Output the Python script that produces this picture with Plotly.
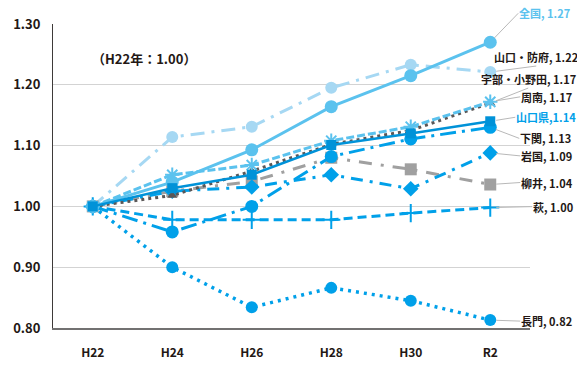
import plotly.graph_objects as go

years = ["H22", "H24", "H26", "H28", "H30", "R2"]

zenkoku = [1.00, 1.040, 1.093, 1.164, 1.215, 1.27]
yamaguchi_hofu = [1.00, 1.114, 1.131, 1.195, 1.233, 1.221]
ube_onoda = [1.00, 1.018, 1.058, 1.102, 1.125, 1.170]
shunan = [1.00, 1.052, 1.068, 1.108, 1.131, 1.172]
yamaguchi_ken = [1.00, 1.030, 1.052, 1.101, 1.120, 1.140]
shimonoseki = [1.00, 0.958, 1.000, 1.082, 1.111, 1.130]
iwakuni = [1.00, 1.025, 1.032, 1.052, 1.029, 1.088]
yanai = [1.00, 1.025, 1.041, 1.080, 1.061, 1.036]
hagi = [1.00, 0.978, 0.978, 0.978, 0.989, 0.998]
nagato = [1.00, 0.900, 0.834, 0.866, 0.845, 0.813]

names = ["全国", "山口・防府", "宇部・小野田", "周南", "山口県", "下関", "岩国", "柳井", "萩", "長門"]
label_values = ["1.27", "1.22", "1.17", "1.17", "1.14", "1.13", "1.09", "1.04", "1.00", "0.82"]

LB = "#5BC2EE"
PALE = "#A6D8F3"
BLUE = "#00A0E9"
DBLUE = "#0092D8"
DGRAY = "#5A5757"
GRAY = "#A0A0A0"
TXT = "#231815"

series = {
    "山口・防府": dict(y=yamaguchi_hofu, color=PALE, dash="14px,7px,3px,7px", width=3, symbol="circle", size=12),
    "柳井": dict(y=yanai, color=GRAY, dash="13px,9px,3px,9px", width=3, symbol="square", size=12),
    "萩": dict(y=hagi, color=BLUE, dash="9px,5px", width=3, symbol="cross-thin-open", size=13),
    "長門": dict(y=nagato, color=BLUE, dash="3px,5px", width=3.5, symbol="circle", size=12),
    "岩国": dict(y=iwakuni, color=BLUE, dash="12px,7px,3px,7px", width=3, symbol="diamond", size=12),
    "下関": dict(y=shimonoseki, color=BLUE, dash="16px,6px,3px,6px", width=3, symbol="circle", size=13),
    "宇部・小野田": dict(y=ube_onoda, color=DGRAY, dash="3px,4px", width=3, symbol="triangle-up", size=9),
    "周南": dict(y=shunan, color=LB, dash="8px,3px", width=3, symbol="asterisk-open", size=12),
    "全国": dict(y=zenkoku, color=LB, dash="solid", width=3, symbol="circle", size=13),
    "山口県": dict(y=yamaguchi_ken, color=DBLUE, dash="solid", width=2.5, symbol="square", size=10),
}

fig = go.Figure()
for name, s in series.items():
    mk = dict(symbol=s["symbol"], size=s["size"], color=s["color"])
    if "open" in s["symbol"]:
        mk["line"] = dict(color=s["color"], width=2)
    fig.add_trace(go.Scatter(
        x=years, y=s["y"], name=name, mode="lines+markers",
        line=dict(color=s["color"], width=s["width"], dash=s["dash"]),
        marker=mk, showlegend=False, hoverinfo="skip",
    ))

# label placement (pixel offsets from last point), anchors
label_pos = {
    "全国": (28, -29, "left", "middle", LB),
    "山口・防府": (46, -6, "center", "bottom", TXT),
    "宇部・小野田": (38, -15, "center", "bottom", TXT),
    "周南": (30, -5, "left", "middle", TXT),
    "山口県": (25, -4, "left", "middle", BLUE),
    "下関": (29, 11, "left", "middle", TXT),
    "岩国": (30, 3, "left", "middle", TXT),
    "柳井": (30, -2, "left", "middle", TXT),
    "萩": (42, -1, "left", "middle", TXT),
    "長門": (30, 1, "left", "middle", TXT),
}
vals = {"全国": zenkoku, "山口・防府": yamaguchi_hofu, "宇部・小野田": ube_onoda, "周南": shunan,
        "山口県": yamaguchi_ken, "下関": shimonoseki, "岩国": iwakuni, "柳井": yanai, "萩": hagi, "長門": nagato}

for name, lv in zip(names, label_values):
    ax, ay, xa, ya, col = label_pos[name]
    sep = "," if name == "山口県" else ", "
    fig.add_annotation(
        x=years[-1], y=vals[name][-1], text=f"{name}{sep}{lv}",
        showarrow=True, ax=ax, ay=ay, xanchor=xa, yanchor=ya,
        arrowhead=0, arrowwidth=1, arrowcolor="#B8B8B8", standoff=6,
        font=dict(family="Noto Sans CJK JP", size=11, color=col, weight="bold"),
        borderpad=0,
    )

fig.add_annotation(
    xref="paper", yref="paper", x=0.19, y=0.886, text="（H22年：1.00）",
    showarrow=False, xanchor="center", yanchor="middle",
    font=dict(family="Noto Sans CJK JP", size=13, color=TXT, weight="bold"),
)

fig.update_layout(
    width=577, height=367,
    margin=dict(l=53, r=47, t=24, b=39, autoexpand=False),
    paper_bgcolor="white", plot_bgcolor="white",
    font=dict(family="Noto Sans CJK JP", color=TXT),
    hovermode=False,
    xaxis=dict(
        type="category", range=[-0.5, 5.5], showgrid=False, zeroline=False,
        showline=True, linecolor="#727171", linewidth=2, automargin=False,
        ticks="", ticklabelstandoff=13,
        tickfont=dict(size=12, color=TXT, weight="bold"),
    ),
    yaxis=dict(
        range=[0.80, 1.30], dtick=0.1, tickformat=".2f", automargin=False,
        showgrid=True, gridcolor="#D3D3D3", gridwidth=1,
        zeroline=False, showline=True, linecolor="#3E3A39", linewidth=1,
        ticks="", ticklabelstandoff=9,
        tickfont=dict(size=13, color=TXT, weight="bold"),
    ),
)

fig.write_html(
    "out.html",
    config={"displayModeBar": False},
    post_script="document.body.style.margin='0';document.body.style.overflow='hidden';",
)
